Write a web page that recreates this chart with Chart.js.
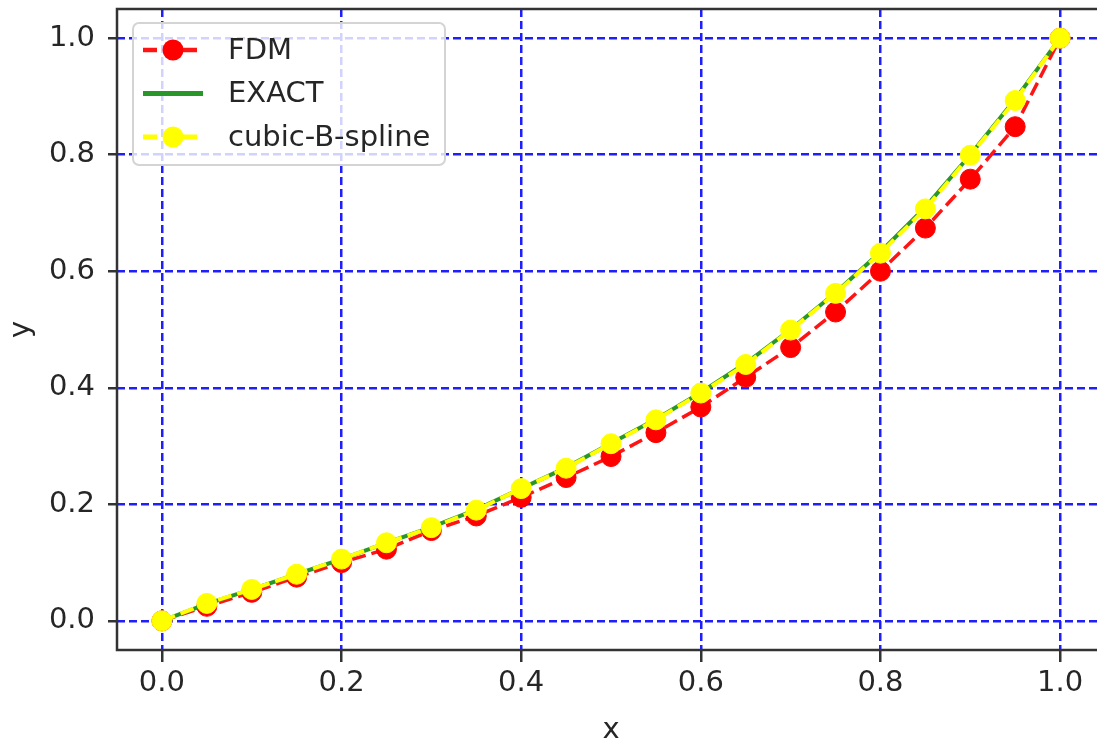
<!DOCTYPE html>
<html>
<head>
<meta charset="utf-8">
<script src="https://cdn.jsdelivr.net/npm/chart.js@4.4.1/dist/chart.umd.min.js"></script>
<style>
    html, body { margin: 0; padding: 0; background: #fff; overflow: hidden; }
    canvas { display: block; }
</style>
</head>
<body>
<canvas id="solutionChart" width="1106" height="752"></canvas>
<script>
// Data
const xValues = [0.00, 0.05, 0.10, 0.15, 0.20, 0.25, 0.30, 0.35, 0.40, 0.45, 0.50,
                 0.55, 0.60, 0.65, 0.70, 0.75, 0.80, 0.85, 0.90, 0.95, 1.00];
const fdmValues = [0.000, 0.025, 0.049, 0.075, 0.100, 0.123, 0.155, 0.180, 0.212, 0.246, 0.282,
                   0.323, 0.367, 0.418, 0.469, 0.530, 0.600, 0.674, 0.758, 0.848, 1.000];
const exactValues = [0.000, 0.029, 0.054, 0.080, 0.106, 0.134, 0.161, 0.191, 0.227, 0.263, 0.305,
                     0.346, 0.392, 0.442, 0.500, 0.563, 0.633, 0.710, 0.800, 0.895, 1.000];
const splineValues = [0.000, 0.030, 0.054, 0.080, 0.106, 0.134, 0.160, 0.190, 0.227, 0.262, 0.304,
                      0.345, 0.391, 0.440, 0.499, 0.562, 0.631, 0.707, 0.799, 0.893, 1.000];
const xTicks = [0.0, 0.2, 0.4, 0.6, 0.8, 1.0];
const yTicks = [0.0, 0.2, 0.4, 0.6, 0.8, 1.0];

const textColor = '#262626';
const gridColor = 'rgb(30, 30, 255)';
const fontFamily = '"DejaVu Sans", sans-serif';

Chart.defaults.font.family = fontFamily;
Chart.defaults.font.size = 29;
Chart.defaults.color = textColor;

const toPoints = (ys) => xValues.map((x, i) => ({ x: x, y: ys[i] }));

// без лишних отступов под крайние подписи
const noEdgePadding = (scale) => {
    scale.paddingTop = 0;
    scale.paddingBottom = 0;
    scale.paddingLeft = 0;
    scale.paddingRight = 0;
};

// Рамка вокруг области графика (правая сторона уходит за край окна, как в оригинале)
const frame = {
    id: 'frame',
    beforeDatasetsDraw(chart) {
        const { ctx, chartArea } = chart;
        ctx.save();
        ctx.strokeStyle = '#333';
        ctx.lineWidth = 2.5;
        ctx.strokeRect(chartArea.left, chartArea.top,
                       chartArea.right - chartArea.left, chartArea.bottom - chartArea.top);
        ctx.restore();
    }
};

// Легенда в стиле matplotlib
const legendBox = {
    id: 'legendBox',
    afterDatasetsDraw(chart) {
        const { ctx, chartArea } = chart;
        const x0 = chartArea.left + 16;
        const y0 = chartArea.top + 14;
        ctx.save();
        ctx.beginPath();
        ctx.roundRect(x0, y0, 312, 142, 6);
        ctx.fillStyle = 'rgba(255, 255, 255, 0.8)';
        ctx.fill();
        ctx.lineWidth = 2;
        ctx.strokeStyle = '#d4d4d4';
        ctx.stroke();

        chart.data.datasets.forEach((ds, i) => {
            const cy = y0 + 27 + i * 43.5;
            const lx = x0 + 10;
            ctx.beginPath();
            ctx.setLineDash(ds.borderDash || []);
            ctx.lineWidth = ds.borderWidth + 1;
            ctx.strokeStyle = ds.borderColor;
            ctx.moveTo(lx, cy);
            ctx.lineTo(lx + 60, cy);
            ctx.stroke();
            ctx.setLineDash([]);
            if (ds.pointRadius > 0) {
                ctx.beginPath();
                ctx.arc(lx + 30, cy, ds.pointRadius + 0.5, 0, Math.PI * 2);
                ctx.fillStyle = ds.pointBackgroundColor;
                ctx.fill();
            }
            ctx.fillStyle = textColor;
            ctx.font = '29px ' + fontFamily;
            ctx.textBaseline = 'middle';
            ctx.textAlign = 'left';
            ctx.fillText(ds.label, x0 + 95, cy + 1);
        });
        ctx.restore();
    }
};

function initChart() {
    const ctx = document.getElementById('solutionChart').getContext('2d');

    new Chart(ctx, {
        type: 'line',
        data: {
            datasets: [{
                label: 'FDM',
                data: toPoints(fdmValues),
                borderColor: 'rgb(255, 20, 20)',
                borderWidth: 3.5,
                borderDash: [14, 6],
                pointRadius: 10,
                pointBorderWidth: 1,
                pointBackgroundColor: '#ff0000',
                pointBorderColor: '#ff0000',
                tension: 0,
                order: 3
            }, {
                label: 'EXACT',
                data: toPoints(exactValues),
                borderColor: 'rgb(40, 150, 40)',
                borderWidth: 4,
                pointRadius: 0,
                tension: 0,
                order: 2
            }, {
                label: 'cubic-B-spline',
                data: toPoints(splineValues),
                borderColor: '#ffff00',
                borderWidth: 4,
                borderDash: [14, 6],
                pointRadius: 10,
                pointBorderWidth: 1,
                pointBackgroundColor: '#ffff00',
                pointBorderColor: '#ffff00',
                tension: 0,
                order: 1
            }]
        },
        options: {
            responsive: false,
            animation: false,
            events: [],
            layout: { autoPadding: false, padding: { top: 9, right: 1, left: 0, bottom: 0 } },
            plugins: {
                legend: { display: false },
                tooltip: { enabled: false }
            },
            scales: {
                x: {
                    type: 'linear',
                    min: -0.05,
                    max: 1.05,
                    afterBuildTicks: (scale) => { scale.ticks = xTicks.map(v => ({ value: v })); },
                    afterFit: (scale) => { scale.height = 102; noEdgePadding(scale); },
                    grid: {
                        color: gridColor,
                        lineWidth: 2.5,
                        tickLength: 12,
                        tickColor: '#333',
                        tickWidth: 2.5
                    },
                    border: { display: false, dash: [8, 4] },
                    ticks: {
                        autoSkip: false,
                        maxRotation: 0,
                        padding: 4,
                        color: textColor,
                        callback: (v) => Number(v).toFixed(1)
                    },
                    title: {
                        display: true,
                        text: 'x',
                        color: textColor,
                        padding: { top: 0, bottom: 4 }
                    }
                },
                y: {
                    type: 'linear',
                    min: -0.05,
                    max: 1.05,
                    afterBuildTicks: (scale) => { scale.ticks = yTicks.map(v => ({ value: v })); },
                    afterFit: (scale) => { scale.width = 117; noEdgePadding(scale); },
                    grid: {
                        color: gridColor,
                        lineWidth: 2.5,
                        tickLength: 9,
                        tickColor: '#333',
                        tickWidth: 2.5
                    },
                    border: { display: false, dash: [8, 4] },
                    ticks: {
                        autoSkip: false,
                        padding: 13,
                        color: textColor,
                        callback: (v) => Number(v).toFixed(1)
                    },
                    title: {
                        display: true,
                        text: 'y',
                        color: textColor,
                        padding: { top: 4, bottom: 4 }
                    }
                }
            }
        },
        plugins: [frame, legendBox]
    });
}

window.addEventListener('DOMContentLoaded', () => {
    initChart();
});
</script>
</body>
</html>
